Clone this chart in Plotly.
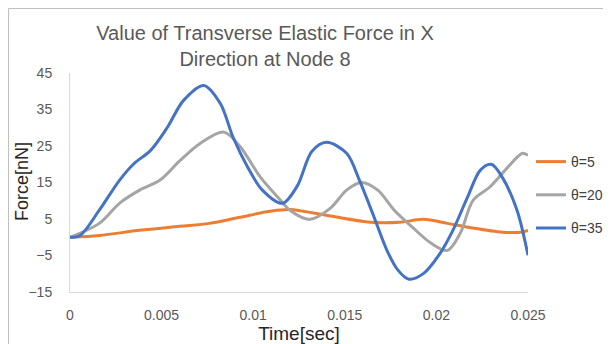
import plotly.graph_objects as go

# ---- data ----
t_5 = [0, 0.0016, 0.0038, 0.006, 0.0076, 0.0093, 0.0109, 0.012, 0.0142, 0.0164, 0.018, 0.0193,
       0.0206, 0.0218, 0.0236, 0.0246, 0.025]
f_5 = [0, 0.5, 1.9, 3.0, 3.8, 5.5, 7.1, 7.6, 5.8, 4.1, 4.1, 4.9,
       3.8, 2.7, 1.4, 1.4, 1.9]

t_20 = [0, 0.0016, 0.0027, 0.0038, 0.0049, 0.006, 0.0071, 0.0084, 0.0093, 0.0104, 0.0115, 0.012,
        0.0131, 0.0142, 0.0151, 0.0159, 0.0168, 0.0177, 0.0187, 0.0197, 0.0206, 0.0213, 0.022,
        0.0229, 0.0236, 0.0244, 0.0247, 0.025]
f_20 = [0, 3.8, 9.3, 12.9, 15.6, 21, 25.7, 28.8, 24.7, 16.4, 10.1, 7.4,
        4.9, 7.9, 12.9, 15, 12.9, 7.4, 2.7, -1.6, -3.6, 1.1, 10.1,
        13.7, 17.5, 21.9, 23, 22.5]

t_35 = [0, 0.00055, 0.0016, 0.0027, 0.0035, 0.0044, 0.0053, 0.0062, 0.0073, 0.0082, 0.0089, 0.0097,
        0.0105, 0.0116, 0.0124, 0.0132, 0.014, 0.0151, 0.0158, 0.0166, 0.0173, 0.0179, 0.0185,
        0.0193, 0.0202, 0.0209, 0.0217, 0.0224, 0.023, 0.0236, 0.0244, 0.025]
f_35 = [0, 0.5, 7.4, 15.6, 20.2, 23.8, 30, 37.5, 41.6, 36.7, 27.4, 19.2,
        12.9, 9.3, 14, 23.5, 26, 23, 15.6, 5.5, -3.6, -9, -11.5,
        -9.9, -4.4, 1.9, 11, 18.4, 20, 16.4, 7.4, -4.9]

series_names = ["θ=5", "θ=20", "θ=35"]
series_colors = ["#ED7D31", "#A5A5A5", "#4472C4"]

x_ticks = [0, 0.005, 0.01, 0.015, 0.02, 0.025]
x_tick_labels = ["0", "0.005", "0.01", "0.015", "0.02", "0.025"]
y_ticks = [-15, -5, 5, 15, 25, 35, 45]

FONT = "Liberation Sans, Arial, sans-serif"

fig = go.Figure()
for (tx, fy), name, col in zip([(t_5, f_5), (t_20, f_20), (t_35, f_35)], series_names, series_colors):
    fig.add_trace(go.Scatter(x=tx, y=fy, mode="lines", name=name, legendgroup=name,
                             line=dict(color=col, width=3, shape="spline", smoothing=0.9)))

# The page body has an 8px margin, so the figure is laid out 8px smaller and
# every position below is given in figure pixels (screen pixel - 8).
W, H = 603, 336
L, R, T, B = 62, 83, 65, 52
pw, ph = W - L - R, H - T - B

def px_x(p):
    return (p - L) / pw

def px_y(p):
    return (H - B - p) / ph

fig.update_layout(
    width=W, height=H,
    margin=dict(l=L, r=R, t=T, b=B, autoexpand=False),
    paper_bgcolor="white", plot_bgcolor="white",
    font=dict(family=FONT, color="#595959"),
    title=dict(text="Value of Transverse Elastic Force in X<br>Direction at Node 8",
               x=257 / W, xref="container", xanchor="center",
               y=1 - 32 / H, yref="container", yanchor="top",
               font=dict(size=20, color="#595959", family=FONT)),
    xaxis=dict(range=[0, 0.025], tickvals=x_ticks, ticktext=x_tick_labels, automargin=False,
               showgrid=False, zeroline=False, showline=True, linecolor="#D9D9D9", linewidth=1,
               ticks="", tickfont=dict(size=14, color="#595959"), ticklabelstandoff=10,
               title=dict(text="Time[sec]", font=dict(size=19, color="#262626"), standoff=10)),
    yaxis=dict(range=[-15, 45], tickvals=y_ticks, automargin=False,
               showgrid=False, zeroline=False, showline=True, linecolor="#D9D9D9", linewidth=1,
               ticks="", tickfont=dict(size=14, color="#595959"), ticklabelstandoff=14),
    legend=dict(x=px_x(523), y=px_y(138), xanchor="left", yanchor="top",
                font=dict(size=14, color="#404040"), tracegroupgap=12,
                bgcolor="rgba(0,0,0,0)", itemwidth=30),
    annotations=[dict(text="Force[nN]", textangle=-90, showarrow=False,
                      xref="paper", yref="paper", x=px_x(14), y=px_y(174),
                      xanchor="center", yanchor="middle",
                      font=dict(size=18, color="#262626", family=FONT))],
    shapes=[
        dict(type="line", xref="paper", yref="paper",
             x0=px_x(0.5), x1=px_x(W + 20), y0=px_y(0.5), y1=px_y(0.5),
             line=dict(color="#BFBFBF", width=1), layer="above"),
        dict(type="line", xref="paper", yref="paper",
             x0=px_x(0.5), x1=px_x(0.5), y0=px_y(0.5), y1=px_y(H + 20),
             line=dict(color="#BFBFBF", width=1), layer="above"),
    ],
)

fig.write_html("out.html")
